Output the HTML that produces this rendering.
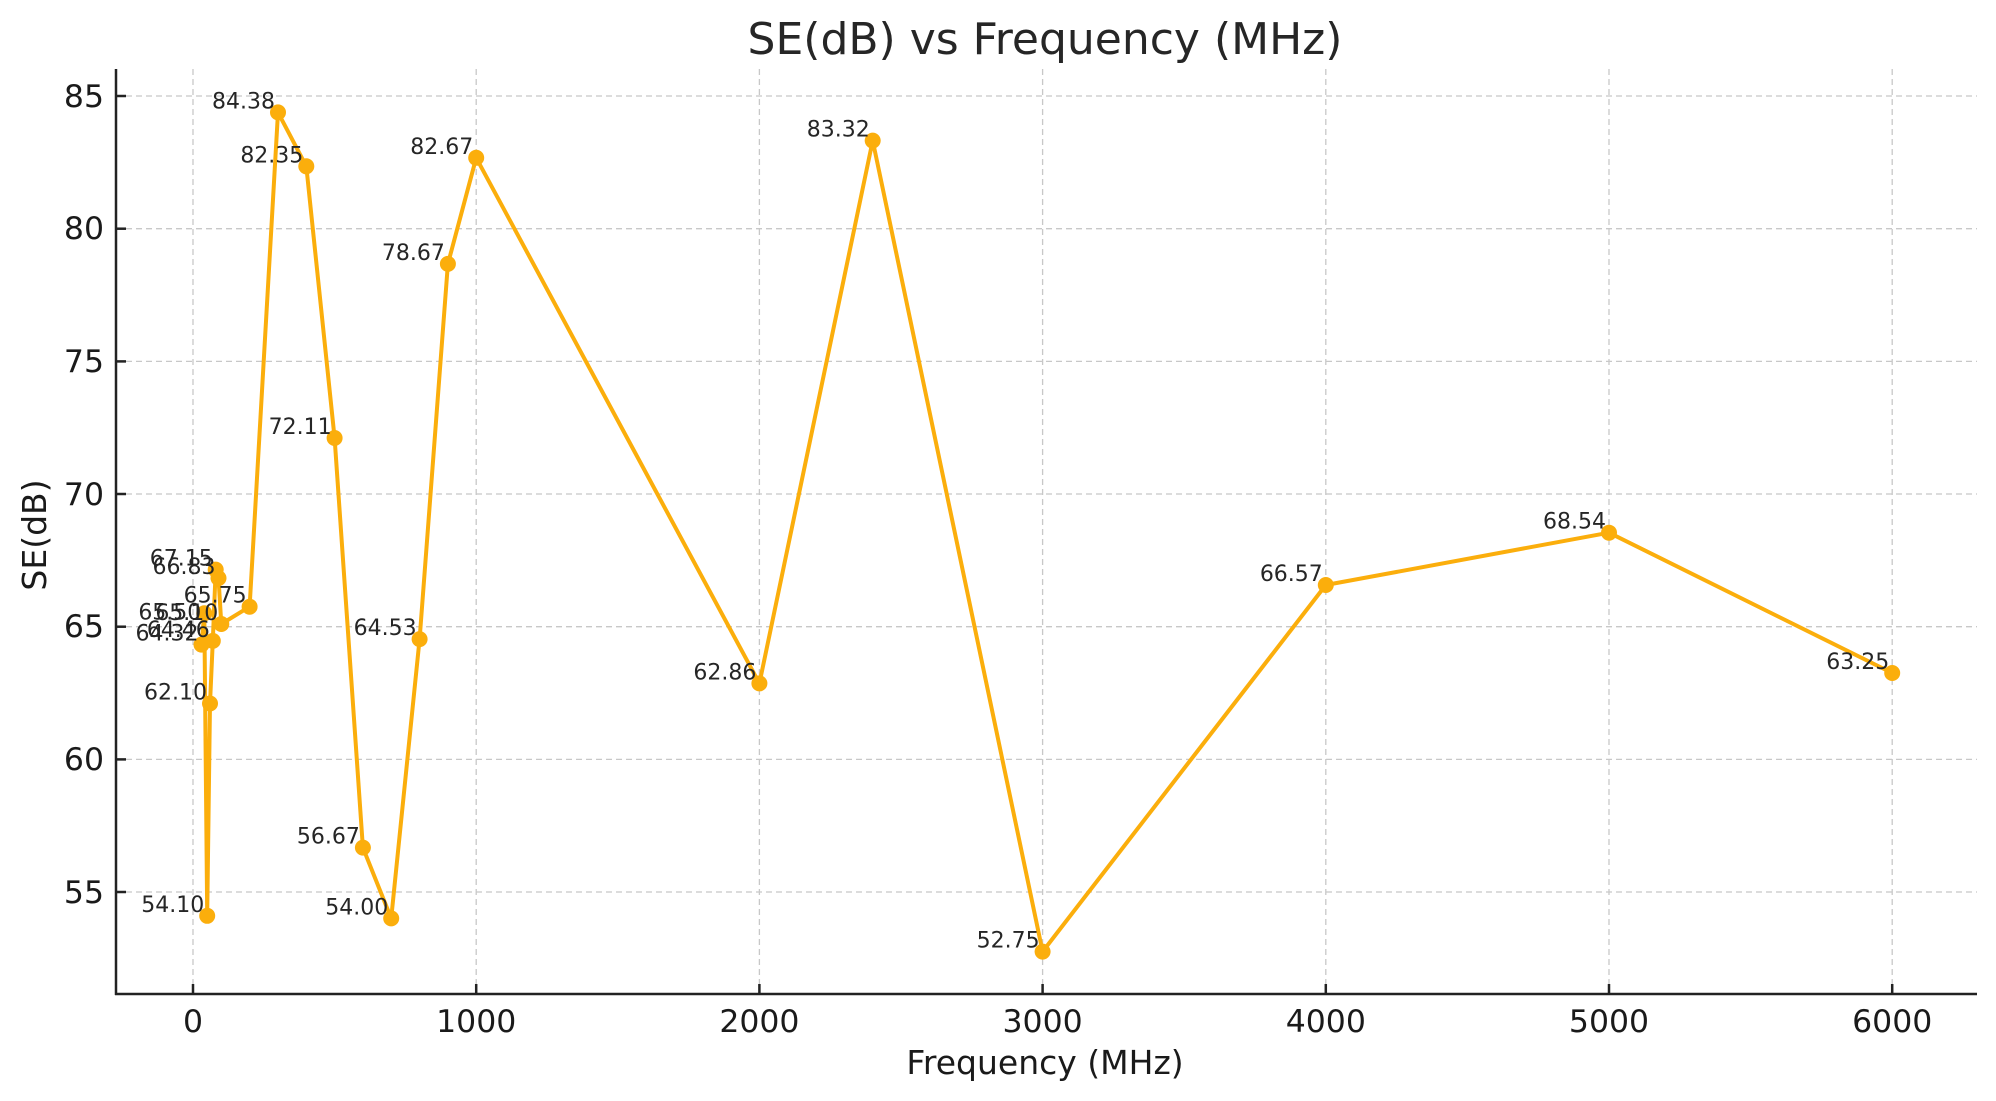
<!DOCTYPE html>
<html><head><meta charset="utf-8"><style>html,body{margin:0;padding:0;background:#fff;}svg{display:block;}</style></head>
<body>
<svg width="1996" height="1101" viewBox="0 0 1996 1101" xmlns="http://www.w3.org/2000/svg" font-family="'DejaVu Sans','Liberation Sans',sans-serif">
<rect width="1996" height="1101" fill="#fff"/>
<g stroke="#c8c8c8" stroke-width="1.3" stroke-dasharray="6,4">
<line x1="193" y1="69" x2="193" y2="994"/><line x1="476.2" y1="69" x2="476.2" y2="994"/><line x1="759.4" y1="69" x2="759.4" y2="994"/><line x1="1042.6" y1="69" x2="1042.6" y2="994"/><line x1="1325.8" y1="69" x2="1325.8" y2="994"/><line x1="1609" y1="69" x2="1609" y2="994"/><line x1="1892.2" y1="69" x2="1892.2" y2="994"/>
<line x1="116" y1="892" x2="1977" y2="892"/><line x1="116" y1="759.4" x2="1977" y2="759.4"/><line x1="116" y1="626.7" x2="1977" y2="626.7"/><line x1="116" y1="494" x2="1977" y2="494"/><line x1="116" y1="361.4" x2="1977" y2="361.4"/><line x1="116" y1="228.7" x2="1977" y2="228.7"/><line x1="116" y1="96" x2="1977" y2="96"/>
</g>
<g stroke="#222" stroke-width="2.5">
<line x1="116" y1="69" x2="116" y2="995"/><line x1="115" y1="994" x2="1977" y2="994"/>
<line x1="116" y1="892" x2="126" y2="892"/><line x1="116" y1="759.4" x2="126" y2="759.4"/><line x1="116" y1="626.7" x2="126" y2="626.7"/><line x1="116" y1="494" x2="126" y2="494"/><line x1="116" y1="361.4" x2="126" y2="361.4"/><line x1="116" y1="228.7" x2="126" y2="228.7"/><line x1="116" y1="96" x2="126" y2="96"/>
<line x1="193" y1="994" x2="193" y2="984"/><line x1="476.2" y1="994" x2="476.2" y2="984"/><line x1="759.4" y1="994" x2="759.4" y2="984"/><line x1="1042.6" y1="994" x2="1042.6" y2="984"/><line x1="1325.8" y1="994" x2="1325.8" y2="984"/><line x1="1609" y1="994" x2="1609" y2="984"/><line x1="1892.2" y1="994" x2="1892.2" y2="984"/>
</g>
<g font-size="31.5" fill="#1a1a1a" text-anchor="end">
<text x="104" y="903">55</text><text x="104" y="770">60</text><text x="104" y="637">65</text><text x="104" y="505">70</text><text x="104" y="372">75</text><text x="104" y="239">80</text><text x="104" y="107">85</text>
</g>
<g font-size="31.5" fill="#1a1a1a" text-anchor="middle">
<text x="193" y="1032">0</text><text x="476.2" y="1032">1000</text><text x="759.4" y="1032">2000</text><text x="1042.6" y="1032">3000</text><text x="1325.8" y="1032">4000</text><text x="1609" y="1032">5000</text><text x="1892.2" y="1032">6000</text>
</g>
<text x="1045" y="54" font-size="44" fill="#262626" text-anchor="middle">SE(dB) vs Frequency (MHz)</text>
<text x="1045" y="1074" font-size="33" fill="#1a1a1a" text-anchor="middle">Frequency (MHz)</text>
<text transform="translate(46,535) rotate(-90)" font-size="33" fill="#1a1a1a" text-anchor="middle">SE(dB)</text>
<polyline fill="none" stroke="#FBAE0C" stroke-width="4" stroke-linejoin="round" points="201.5,644.6 204.3,613.3 207.2,915.8 210,703.5 212.8,640.9 215.7,569.6 218.5,578.1 221.3,624 249.6,606.7 278,112.4 306.3,166.3 334.6,438 362.9,847.6 391.2,918.4 419.6,639.1 447.9,263.9 476.2,157.8 759.4,683.4 872.7,140.6 1042.6,951.6 1325.8,585 1609,532.7 1892.2,673"/>
<g fill="#FBAE0C">
<circle cx="201.5" cy="644.6" r="8"/><circle cx="204.3" cy="613.3" r="8"/><circle cx="207.2" cy="915.8" r="8"/><circle cx="210" cy="703.5" r="8"/><circle cx="212.8" cy="640.9" r="8"/><circle cx="215.7" cy="569.6" r="8"/><circle cx="218.5" cy="578.1" r="8"/><circle cx="221.3" cy="624" r="8"/><circle cx="249.6" cy="606.7" r="8"/><circle cx="278" cy="112.4" r="8"/><circle cx="306.3" cy="166.3" r="8"/><circle cx="334.6" cy="438" r="8"/><circle cx="362.9" cy="847.6" r="8"/><circle cx="391.2" cy="918.4" r="8"/><circle cx="419.6" cy="639.1" r="8"/><circle cx="447.9" cy="263.9" r="8"/><circle cx="476.2" cy="157.8" r="8"/><circle cx="759.4" cy="683.4" r="8"/><circle cx="872.7" cy="140.6" r="8"/><circle cx="1042.6" cy="951.6" r="8"/><circle cx="1325.8" cy="585" r="8"/><circle cx="1609" cy="532.7" r="8"/><circle cx="1892.2" cy="673" r="8"/>
</g>
<g font-size="22" fill="#262626" text-anchor="end">
<text x="198.5" y="640.6">64.32</text><text x="201.3" y="619.3">65.50</text><text x="204.2" y="911.8">54.10</text><text x="207" y="699.5">62.10</text><text x="209.8" y="636.9">64.46</text><text x="212.7" y="565.6">67.15</text><text x="215.5" y="574.1">66.83</text><text x="218.3" y="620">65.10</text><text x="246.6" y="602.7">65.75</text><text x="275" y="108.4">84.38</text><text x="303.3" y="162.3">82.35</text><text x="331.6" y="434">72.11</text><text x="359.9" y="843.6">56.67</text><text x="388.2" y="914.4">54.00</text><text x="416.6" y="635.1">64.53</text><text x="444.9" y="259.9">78.67</text><text x="473.2" y="153.8">82.67</text><text x="756.4" y="679.4">62.86</text><text x="869.7" y="136.6">83.32</text><text x="1039.6" y="947.6">52.75</text><text x="1322.8" y="581">66.57</text><text x="1606" y="528.7">68.54</text><text x="1889.2" y="669">63.25</text>
</g>
</svg>
</body></html>
